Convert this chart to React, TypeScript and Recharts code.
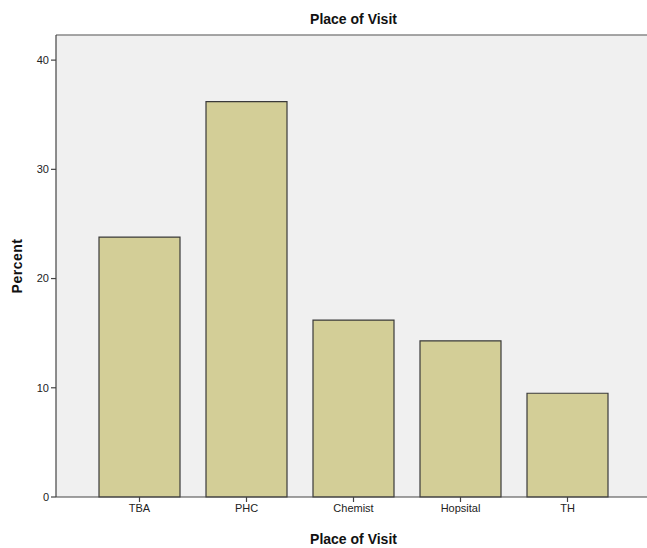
import React from "react";
import { BarChart, Bar, XAxis, YAxis, CartesianGrid, ReferenceLine, Label } from "recharts";

const categories = ["TBA", "PHC", "Chemist", "Hopsital", "TH"];
const percents = [23.8, 36.2, 16.2, 14.3, 9.5];
const yTicks = [0, 10, 20, 30, 40];
const yMax = 42.3;

const data = categories.map((c, i) => ({ name: c, value: percents[i] }));

const font = "Arial, 'Liberation Sans', sans-serif";

export default function App() {
  return (
    <div style={{ position: "absolute", left: 0, top: 0, width: 647, height: 548, overflow: "hidden", background: "#fff", fontFamily: font }}>
      <div style={{ position: "absolute", top: 11, left: 0, width: 707, textAlign: "center", fontWeight: "bold", fontSize: 14, color: "#111" }}>
        Place of Visit
      </div>
      <BarChart
        width={655}
        height={548}
        data={data}
        margin={{ top: 35, right: 4, left: 0, bottom: 0 }}
        barCategoryGap={13}
      >
        <CartesianGrid fill="#F0F0F0" horizontal={false} vertical={false} />
        <ReferenceLine y={yMax} stroke="#888" strokeWidth={1.5} ifOverflow="extendDomain" />
        <XAxis
          dataKey="name"
          height={51}
          padding={{ left: 30, right: 30 }}
          stroke="#444"
          strokeWidth={1.2}
          tickSize={5}
          tick={{ fill: "#222", fontSize: 11, fontFamily: font }}
          tickLine={{ stroke: "#444" }}
          interval={0}
        >
          <Label value="Place of Visit" position="insideBottom" offset={4} style={{ fontWeight: "bold", fontSize: 14, fill: "#111", fontFamily: font }} />
        </XAxis>
        <YAxis
          width={56}
          domain={[0, yMax]}
          ticks={yTicks}
          stroke="#444"
          strokeWidth={1.2}
          tickSize={5}
          tickMargin={2}
          tick={{ fill: "#222", fontSize: 11, fontFamily: font }}
          tickLine={{ stroke: "#444" }}
        >
          <Label value="Percent" angle={-90} position="insideLeft" offset={17} style={{ fontWeight: "bold", fontSize: 14, fill: "#111", fontFamily: font, textAnchor: "middle", letterSpacing: 0.5 }} />
        </YAxis>
        <Bar dataKey="value" fill="#D3CE97" stroke="#3a3a3a" strokeWidth={1.2} isAnimationActive={false} />
      </BarChart>
    </div>
  );
}
